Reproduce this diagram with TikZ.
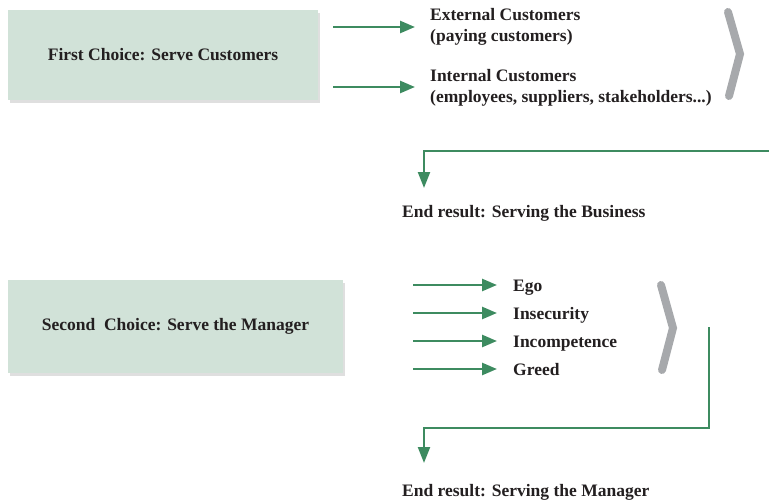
\documentclass[tikz,border=0pt]{standalone}
\usepackage{fontspec}
\setmainfont{Liberation Serif}
\usetikzlibrary{arrows.meta}
\usetikzlibrary{calc}
\usetikzlibrary{shadows}
\definecolor{arrowgreen}{RGB}{61,139,96}
\definecolor{boxgreen}{RGB}{209,226,216}
\definecolor{chevrongray}{RGB}{167,169,172}
\definecolor{textdark}{RGB}{35,31,32}
\tikzset{
    choicebox/.style={fill=boxgreen, draw=none, text=textdark, font=\fontsize{17.5}{21}\selectfont\bfseries,
        drop shadow={shadow xshift=2pt, shadow yshift=-3pt, opacity=0.25, fill=gray}},
    itemtext/.style={inner sep=0pt, text=textdark, align=left, font=\fontsize{17.5}{21}\selectfont\bfseries},
    flow/.style={draw=arrowgreen, line width=2.6pt, -{Triangle[length=15pt, width=12pt]}},
    bendflow/.style={draw=arrowgreen, line width=2.2pt, -{Triangle[length=16pt, width=12pt]}},
    chevron/.style={draw=chevrongray, line width=8pt, line cap=round, line join=miter}
}
\begin{document}
\begin{tikzpicture}[x=1pt, y=-1pt]
    \useasboundingbox (0,0) rectangle (769,503);
    % first choice
    \node [choicebox, minimum width=310pt, minimum height=90pt] (first) at (163,55) {First Choice: Serve Customers};
    \node [itemtext, anchor=west] (ext) at (430,27) {External Customers\\(paying customers)};
    \node [itemtext, anchor=west] (int) at (430,88) {Internal Customers\\(employees, suppliers, stakeholders...)};
    \coordinate (a1) at (333,27);
    \coordinate (a2) at (333,87);
    \draw [flow, shorten >=15pt] (a1) -- (a1 -| ext.west);
    \draw [flow, shorten >=15pt] (a2) -- (a2 -| int.west);
    \draw [chevron] (728,12) -- (740,54) -- (729,96);
    \node [itemtext, anchor=north west] (endb) at (402,205) {End result: Serving the Business};
    \coordinate (b1) at (769,151);
    \coordinate (t1) at ($(endb.north west)+(22,0)$);
    \draw [bendflow, shorten >=17pt] (b1) -| (t1);
    % second choice
    \node [choicebox, minimum width=335pt, minimum height=93pt] (second) at (175.5,326) {Second\ \ Choice: Serve the Manager};
    \foreach \txt [count=\i] in {Ego, Insecurity, Incompetence, Greed} {
        \node [itemtext, anchor=base west] (item\i) at (513,{285+28*(\i-1)+6}) {\txt};
        \coordinate (s\i) at (413,{285+28*(\i-1)});
        \draw [flow, shorten >=16pt] (s\i) -- (s\i -| item\i.west);
    }
    \draw [chevron] (661,285) -- (673,328) -- (662,370);
    \node [itemtext, anchor=north west] (endm) at (402,484) {End result: Serving the Manager};
    \coordinate (b2) at (709,327);
    \coordinate (k2) at (709,428);
    \coordinate (t2) at ($(endm.north west)+(22,0)$);
    \draw [bendflow, shorten >=21pt] (b2) -- (k2) -| (t2);
\end{tikzpicture}
\end{document}
